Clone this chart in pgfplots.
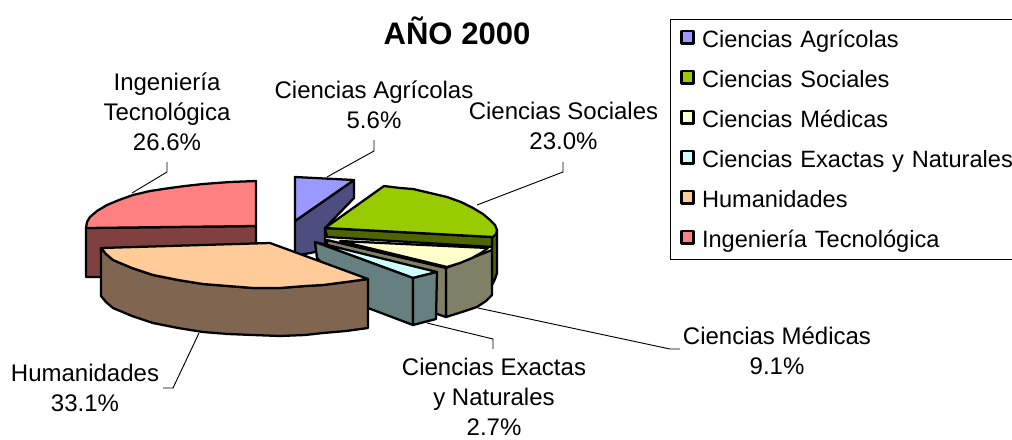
\documentclass[border=0pt]{standalone}
\usepackage{pgfplots}
\pgfplotsset{compat=1.18}
\usepackage{fontspec}
\setmainfont{Liberation Sans}
\definecolor{cA}{HTML}{9999FF}\definecolor{dA}{HTML}{4D4D80}
\definecolor{cS}{HTML}{99CC00}\definecolor{dS}{HTML}{4D6600}
\definecolor{cM}{HTML}{FFFFCC}\definecolor{dM}{HTML}{808066}
\definecolor{cE}{HTML}{CCFFFF}\definecolor{dE}{HTML}{668080}
\definecolor{cH}{HTML}{FFCC99}\definecolor{dH}{HTML}{806650}
\definecolor{cI}{HTML}{FF8080}\definecolor{dI}{HTML}{804040}
\pgfplotsset{
  slice/.style={draw=black,line width=1.7pt,line join=round,forget plot},
  leader/.style={draw=black,line width=0.7pt,forget plot},
  swatch/.style={legend image code/.code={
    \path[draw=none,fill=none] (-7.5pt,0pt) rectangle (16.5pt,0.1pt);
    \draw[draw=black,line width=1.9pt,line join=round,fill=#1] (0.95pt,-3.5pt) rectangle (10.3pt,5.85pt);}},
}
\begin{document}
\begin{tikzpicture}
\begin{axis}[
  width=759pt,height=329.25pt,scale only axis,hide axis,
  xmin=0,xmax=1012,ymin=0,ymax=439,y dir=reverse,clip=false,no marks,
  legend cell align=left,
  legend style={at={(axis cs:670,19)},anchor=north west,draw=black,line width=0.7pt,
    inner sep=0pt,outer sep=0pt,row sep=0pt,column sep=0pt,
    font=\fontsize{17.7}{20}\selectfont,
    nodes={inner sep=0pt,outer sep=0pt},
    /tikz/column 2/.style={nodes={text height=21pt,text depth=9pt,text width=234pt,align=left}},
  },
]
% leader lines
\addplot[leader] coordinates {(132,193) (167,172) (167,162)};
\addplot[leader] coordinates {(327,177) (374,151) (374,140)};
\addplot[leader] coordinates {(477,205) (563,172) (563,162)};
\addplot[leader] coordinates {(478,308) (670,349) (680,349)};
\addplot[leader] coordinates {(427,323) (493,339) (493,349)};
\addplot[leader] coordinates {(199,333) (173,388) (163,388)};
% Ciencias Agricolas
\addplot[slice,fill=dA] coordinates {(295,221) (354,180) (354,198) (325,228) (325,250) (295,256)} -- cycle;
\addplot[slice,fill=cA] coordinates {(295,177) (354,180) (295,221)} -- cycle;
% Ingenieria
\addplot[slice,fill=dI] coordinates {(86,228) (256,226) (256,277) (86,277)} -- cycle;
\addplot[slice,fill=cI] coordinates {(256,181) (230,182) (203,184) (185,186) (170,188) (150,191) (133,195) (119,200) (107,205) (97,211) (90,217) (87,222) (86,228) (256,226)} -- cycle;
% Sociales outer side
\addplot[slice,fill=dS] coordinates {(497,230) (497,273) (495,279) (492,285) (492,237)} -- cycle;
% Medicas sides
\addplot[slice,fill=dM] coordinates {(446,268) (492,250) (492,295) (486,301) (477,307) (462,312) (446,317)} -- cycle;
\addplot[slice,fill=dM] coordinates {(327,240) (446,268) (446,317) (437,314) (327,290)} -- cycle;
\addplot[slice,fill=cM] coordinates {(340,241) (488,248) (481,253) (472,258) (460,263) (447,267)} -- cycle;
% Sociales band and top
\addplot[slice,fill=dS] coordinates {(325,228) (492,237) (492,247) (327,237)} -- cycle;
\addplot[slice,fill=cS] coordinates {(325,228) (384,186) (400,188) (413,189) (430,193) (447,197) (461,202) (473,208) (483,214) (490,220) (495,225) (497,230) (496,234) (493,237)} -- cycle;
% Exactas
\addplot[slice,fill=cE] coordinates {(315,242) (437,272) (413,278)} -- cycle;
\addplot[slice,fill=dE] coordinates {(315,242) (413,278) (413,325) (368,308) (317,258)} -- cycle;
\addplot[slice,fill=dE] coordinates {(413,278) (437,272) (436,319) (413,325)} -- cycle;
% Humanidades
\addplot[slice,fill=dH] coordinates {(101,248) (106,254) (113,260) (132,268) (153,275) (178,280) (203,284) (228,286) (253,288) (280,288) (305,286) (323,285) (346,282) (368,279) (368,328) (346,331) (323,333) (305,335) (280,336) (253,335) (228,334) (203,332) (178,328) (153,323) (132,316) (113,308) (106,302) (101,296)} -- cycle;
\addplot[slice,fill=cH] coordinates {(101,248) (270,243) (368,279) (346,282) (323,285) (305,286) (280,288) (253,288) (228,286) (203,284) (178,280) (153,275) (132,268) (113,260) (106,254)} -- cycle;
% legend
\addlegendimage{swatch=cA}\addlegendentry{\mbox{Ciencias Agrícolas}}
\addlegendimage{swatch=cS}\addlegendentry{\mbox{Ciencias Sociales}}
\addlegendimage{swatch=cM}\addlegendentry{\mbox{Ciencias Médicas}}
\addlegendimage{swatch=cE}\addlegendentry{\mbox{Ciencias Exactas y Naturales}}
\addlegendimage{swatch=cH}\addlegendentry{\mbox{Humanidades}}
\addlegendimage{swatch=cI}\addlegendentry{\mbox{Ingeniería Tecnológica}}
% texts
\tikzset{lab/.style={align=center,inner sep=0pt,font=\fontsize{18}{22.5}\selectfont}}
\node[inner sep=0pt,font=\fontsize{23.3}{28}\selectfont\bfseries] at (axis cs:457,31) {AÑO 2000};
\node[lab] at (axis cs:167,112) {Ingeniería\\Tecnológica\\26.6\%};
\node[lab] at (axis cs:374,105) {Ciencias Agrícolas\\5.6\%};
\node[lab] at (axis cs:563.5,126) {Ciencias Sociales\\23.0\%};
\node[lab] at (axis cs:777,351) {Ciencias Médicas\\9.1\%};
\node[lab] at (axis cs:494,396.5) {Ciencias Exactas\\y Naturales\\2.7\%};
\node[lab] at (axis cs:85,388) {Humanidades\\33.1\%};
\end{axis}
\pgfresetboundingbox
\path[use as bounding box] (0,0) rectangle (759pt,329.25pt);
\end{tikzpicture}
\end{document}
